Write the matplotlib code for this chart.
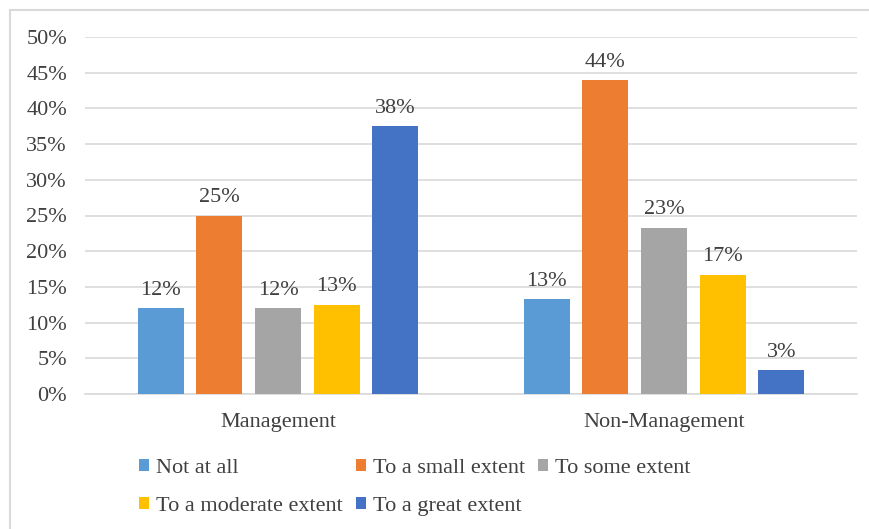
import numpy as np
import matplotlib
matplotlib.use("Agg")
import matplotlib.pyplot as plt
from matplotlib.patches import Patch
from matplotlib.lines import Line2D

plt.rcParams['font.family'] = ['Liberation Serif', 'DejaVu Serif']
plt.rcParams['font.size'] = 16

# Datos
grupos = ["Management", "Non-Management"]
respuestas = ["Not at all", "To a small extent", "To some extent",
              "To a moderate extent", "To a great extent"]
management = [12.0, 25.0, 12.0, 12.5, 37.5]
non_management = [13.3, 44.0, 23.3, 16.7, 3.3]
colores = ["#5B9BD5", "#ED7D31", "#A5A5A5", "#FFC000", "#4472C4"]

texto = "#404040"
grid = "#D9D9D9"

fig = plt.figure(figsize=(8.7, 5.29), dpi=100)
ax = fig.add_axes([85 / 870, 1 - 394 / 529, (857 - 85) / 870, (394 - 37) / 529])

x = np.arange(len(grupos))
ancho = 0.119
paso = 0.152
valores = np.array([management, non_management])

for i, r in enumerate(respuestas):
    pos = x + (i - 2) * paso
    barras = ax.bar(pos, valores[:, i], width=ancho, color=colores[i], label=r, zorder=3)
    for b, v in zip(barras, valores[:, i]):
        ax.annotate(f"{int(v + 0.5)}%", (b.get_x() + b.get_width() / 2, v),
                    xytext=(0, 6), textcoords="offset points",
                    ha="center", va="bottom", color=texto, fontsize=16)

ax.set_xlim(-0.5, 1.5)
ax.set_ylim(0, 50)
ax.set_yticks(range(0, 51, 5))
ax.set_yticklabels([f"{t}%" for t in range(0, 51, 5)])
ax.set_xticks(x)
ax.set_xticklabels(grupos)
ax.tick_params(axis="y", length=0, pad=13, colors=texto, labelsize=16)
ax.tick_params(axis="x", length=0, pad=14, colors=texto, labelsize=16)
ax.grid(axis="y", color=grid, linewidth=1.2, zorder=0)
for s in ["top", "right", "left"]:
    ax.spines[s].set_visible(False)
ax.spines["bottom"].set_color(grid)
ax.spines["bottom"].set_linewidth(1.2)

# Leyenda (orden por filas)
handles = [Patch(facecolor=c) for c in colores]
orden = [0, 3, 1, 4, 2]
fig.legend([handles[k] for k in orden], [respuestas[k] for k in orden],
           ncol=3, loc="upper left", bbox_to_anchor=(128 / 870, 1 - 448 / 529),
           frameon=False, handlelength=0.45, handleheight=0.45, handletextpad=0.3,
           columnspacing=0.6, labelspacing=0.85, fontsize=16, labelcolor=texto,
           borderpad=0)

# Borde del gráfico
fig.add_artist(Line2D([10 / 870, 1], [1 - 10 / 529, 1 - 10 / 529], color=grid, linewidth=1.5))
fig.add_artist(Line2D([10 / 870, 10 / 870], [0, 1 - 10 / 529], color=grid, linewidth=1.5))

fig.savefig("out.png", dpi=100)
